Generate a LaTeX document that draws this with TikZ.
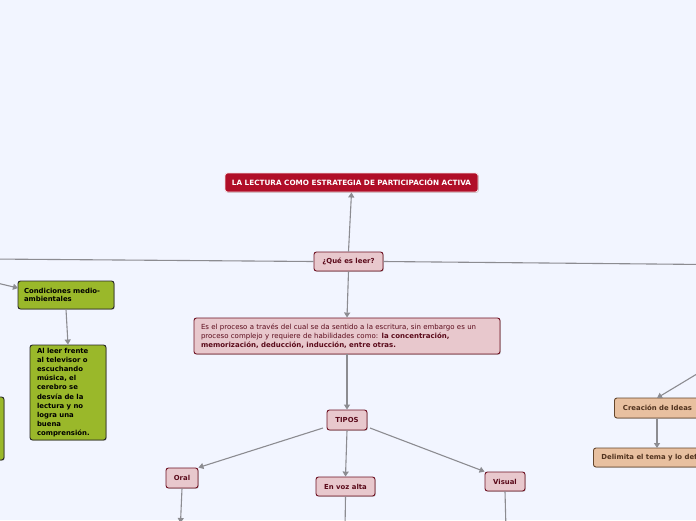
\documentclass[tikz,border=0pt]{standalone}
\usepackage{fontspec}
\setmainfont{DejaVu Sans}
\usetikzlibrary{arrows.meta,shadows}
\definecolor{bgc}{RGB}{242,245,255}
\definecolor{titlefill}{RGB}{176,14,40}
\definecolor{pinkfill}{RGB}{232,200,205}
\definecolor{pinkline}{RGB}{110,16,34}
\definecolor{pinktext}{RGB}{90,10,26}
\definecolor{greenfill}{RGB}{154,184,42}
\definecolor{tanfill}{RGB}{232,192,160}
\definecolor{tanline}{RGB}{100,70,45}
\definecolor{tantext}{RGB}{80,50,30}
\definecolor{conn}{RGB}{140,140,145}
\tikzset{
  base/.style={rounded corners=2.5pt, line width=0.9pt, inner sep=0pt, font=\fontsize{6.9}{8.7}\selectfont\bfseries,
    drop shadow={shadow xshift=0.8pt,shadow yshift=-0.8pt,fill=black!35,opacity=0.6}},
  titlebox/.style={base, fill=titlefill, draw=white!85!titlefill, text=white},
  pinkbox/.style={base, fill=pinkfill, draw=pinkline, text=pinktext},
  greenbox/.style={base, fill=greenfill, draw=black!85, text=black},
  tanbox/.style={base, fill=tanfill, draw=tanline, text=tantext},
  conline/.style={draw=conn, line width=1.1pt},
  conarrow/.style={conline, -{Triangle[width=6pt,length=5pt]}},
}
\begin{document}
\begin{tikzpicture}[x=1pt,y=-1pt]
\useasboundingbox (0,0) rectangle (696,520);
\fill[bgc] (0,0) rectangle (696,520);
\clip (0,0) rectangle (696,520);

% nodes
\node[titlebox, minimum width=253pt, minimum height=19pt, font=\fontsize{7.25}{8.5}\selectfont\bfseries] (title) at (351.5,182.5) {LA LECTURA COMO ESTRATEGIA DE PARTICIPACIÓN ACTIVA};
\node[pinkbox, minimum width=69pt, minimum height=19pt] (que) at (348.5,261.5) {¿Qué es leer?};
\node[pinkbox, minimum width=306pt, minimum height=36pt, align=left, font=\fontsize{7}{8.7}\selectfont, text width=292pt] (desc) at (347,336)
  {Es el proceso a través del cual se da sentido a la escritura, sin embargo es un\\
   proceso complejo y requiere de habilidades como: \textbf{la concentración,}\\
   \textbf{memorización, deducción, inducción, entre otras.}};
\node[pinkbox, minimum width=40pt, minimum height=20pt] (tipos) at (347,420) {TIPOS};
\node[pinkbox, minimum width=32pt, minimum height=20pt] (oral) at (182,478) {Oral};
\node[pinkbox, minimum width=59pt, minimum height=19pt] (voz) at (345.5,486.5) {En voz alta};
\node[pinkbox, minimum width=40pt, minimum height=19pt] (visual) at (505,481.5) {Visual};

\node[greenbox, minimum width=96pt, minimum height=28pt, align=left, text width=84pt] (cond) at (66,295) {Condiciones medio-\\ambientales};
\node[greenbox, minimum width=76pt, minimum height=95pt, align=left, text width=62pt, font=\fontsize{6.9}{9.2}\selectfont\bfseries] (green2) at (68,392.5)
  {Al leer frente\\al televisor o\\escuchando\\música, el\\cerebro se\\desvía de la\\lectura y no\\logra una\\buena\\comprensión.};
\node[greenbox, minimum width=44pt, minimum height=63pt] (partial) at (-18,428.5) {};

\node[tanbox, minimum width=84pt, minimum height=20pt, anchor=west, inner xsep=8.5pt, align=left, text width=70pt] (crea) at (614,408) {Creación de Ideas};
\node[tanbox, minimum height=19pt, anchor=west, inner xsep=8pt] (delim) at (593,457.5) {Delimita el tema y lo define};

% off-canvas and anchor coordinates
\coordinate (offL) at (-10,259);
\coordinate (offR) at (706,264.5);
\coordinate (offL2) at (-20,279);
\coordinate (offR2) at (745,345);
\coordinate (oralEnd) at (180.5,523);
\coordinate (vozEnd) at (345,530);
\coordinate (visEnd) at (506,530);
\coordinate (creaTop) at (657,398);
\coordinate (creaBot) at (657,418.5);
\coordinate (delimTop) at (657,448);
\coordinate (condIn) at (18,288);
\coordinate (tipA) at (323,428);
\coordinate (tipB) at (370,428);

% connectors
\draw[conarrow] (que.north) -- (title.south);
\draw[conline] (que.west) -- (offL);
\draw[conline] (que.east) -- (offR);
\draw[conarrow] (que.south) -- (desc.north);
\draw[conarrow] (desc.south) -- (tipos.north);
\draw[conarrow] (tipA) -- (oral.north east);
\draw[conarrow] (tipos.south) -- (voz.north);
\draw[conarrow] (tipB) -- (visual.north west);
\draw[conarrow] (oral.south) -- (oralEnd);
\draw[conline] (voz.south) -- (vozEnd);
\draw[conline] (visual.south) -- (visEnd);
\draw[conarrow] (offL2) -- (condIn);
\draw[conarrow] (cond.south) -- (green2.north);
\draw[conarrow] (offR2) -- (creaTop);
\draw[conarrow] (creaBot) -- (delimTop);
\end{tikzpicture}
\end{document}
